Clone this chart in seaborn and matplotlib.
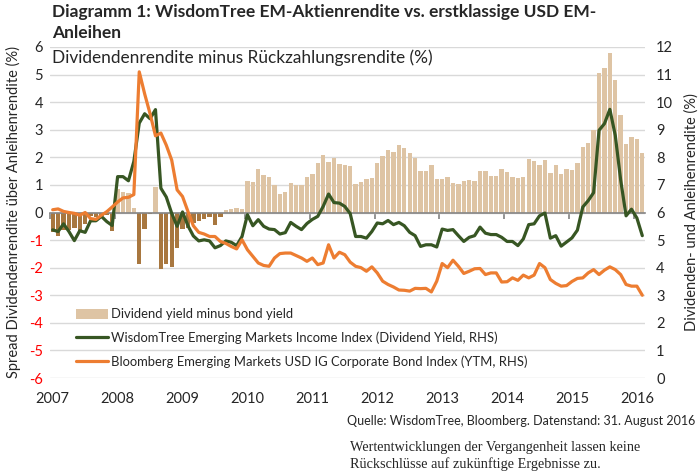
import numpy as np
import pandas as pd
import matplotlib.pyplot as plt
import seaborn as sns
from matplotlib.patches import Patch
from matplotlib.lines import Line2D

# monthly values, Jan 2007 .. Feb 2016
years = [str(y) for y in range(2007, 2017)]

spread = [-0.72, -0.86, -0.62, -0.62, -0.55, -0.70, -0.40, -0.12, -0.15, -0.12,
          -0.08, -0.68, 0.84, 0.76, 0.72, 0.16, -1.85, -0.60, -0.05, 0.94,
          -2.05, -1.85, -1.97, -1.29, -0.60, -0.56, -0.38, -0.32, -0.23, -0.17,
          -0.45, -0.15, 0.08, 0.12, 0.17, 0.12, 1.16, 1.10, 1.58, 1.36,
          1.28, 0.98, 0.67, 0.75, 1.08, 0.99, 1.00, 1.28, 1.39, 1.78,
          2.10, 1.84, 1.98, 1.77, 1.73, 1.70, 1.05, 1.12, 1.20, 1.24,
          1.78, 2.06, 2.28, 2.21, 2.44, 2.34, 2.14, 1.96, 1.51, 1.51,
          1.71, 1.20, 1.20, 1.30, 1.08, 1.03, 1.14, 1.18, 1.15, 1.49,
          1.50, 1.33, 1.33, 1.57, 1.47, 1.30, 1.24, 1.27, 1.94, 1.86,
          1.71, 1.90, 1.44, 1.71, 1.39, 1.57, 1.54, 1.80, 2.38, 2.52,
          3.00, 5.06, 5.23, 5.78, 4.82, 3.53, 2.50, 2.73, 2.66, 2.16]

div_yield = [5.37, 5.31, 5.59, 5.31, 4.98, 5.34, 5.28, 5.70, 5.70, 5.86,
             5.67, 5.53, 7.30, 7.30, 7.15, 7.85, 9.24, 9.58, 9.40, 9.73,
             6.88, 6.56, 5.97, 5.50, 6.02, 5.52, 5.15, 4.97, 5.01, 4.97,
             4.72, 4.80, 4.97, 4.92, 4.80, 5.13, 5.92, 5.52, 5.74, 5.50,
             5.40, 5.38, 5.22, 5.27, 5.64, 5.50, 5.38, 5.60, 5.75, 5.86,
             6.22, 6.67, 6.36, 6.34, 6.22, 5.96, 5.13, 5.13, 5.07, 5.31,
             5.62, 5.59, 5.71, 5.56, 5.64, 5.52, 5.28, 5.16, 4.77, 4.83,
             4.83, 4.75, 5.40, 5.35, 5.38, 5.16, 4.95, 5.10, 5.16, 5.47,
             5.25, 5.20, 5.20, 5.10, 4.95, 4.95, 4.80, 5.04, 5.56, 5.59,
             5.88, 5.98, 5.07, 5.16, 4.78, 4.93, 5.08, 5.36, 6.20, 6.43,
             6.72, 8.98, 9.22, 9.74, 8.80, 7.18, 5.88, 6.12, 5.80, 5.16]

bond_ytm = [6.10, 6.13, 6.04, 6.00, 5.97, 5.90, 6.00, 5.78, 5.75, 5.90,
            6.03, 6.20, 6.38, 6.53, 6.55, 6.65, 11.10, 10.30, 9.58, 8.78,
            8.88, 8.44, 7.90, 6.82, 6.58, 6.04, 5.52, 5.28, 5.22, 5.13,
            5.13, 4.95, 4.88, 4.77, 4.68, 5.01, 4.65, 4.41, 4.17, 4.08,
            4.05, 4.35, 4.51, 4.53, 4.53, 4.44, 4.35, 4.23, 4.35, 4.11,
            4.17, 4.83, 4.35, 4.56, 4.47, 4.20, 4.05, 4.00, 3.87, 4.03,
            3.81, 3.51, 3.39, 3.30, 3.19, 3.18, 3.15, 3.25, 3.24, 3.25,
            3.12, 3.51, 4.15, 4.00, 4.27, 4.05, 3.79, 3.87, 3.96, 3.97,
            3.75, 3.81, 3.81, 3.48, 3.49, 3.63, 3.54, 3.73, 3.63, 3.73,
            4.15, 4.00, 3.57, 3.43, 3.33, 3.35, 3.50, 3.61, 3.63, 3.81,
            3.93, 3.75, 3.91, 4.03, 3.93, 3.75, 3.39, 3.33, 3.33, 3.00]

TAN = '#DEC4A4'
BROWN = '#A8773F'
GREEN = '#375623'
ORANGE = '#ED7D31'

sns.set_theme(style='white')
plt.rcParams['font.family'] = ['Lato', 'DejaVu Sans']

n = len(spread)
df = pd.DataFrame({'month': np.arange(n), 'spread': spread,
                   'div': div_yield, 'bond': bond_ytm})
df['pos'] = df['spread'].clip(lower=0)
df['neg'] = df['spread'].clip(upper=0)

fig = plt.figure(figsize=(7, 4.76), dpi=100)
ax = fig.add_axes([50/700, 1 - 378/476, 595/700, 331/476])

# positive and negative spreads get different colours (Excel "invert if negative")
sns.barplot(data=df, x='month', y='pos', color=TAN, width=0.8, saturation=1,
            linewidth=0, edgecolor='none', ax=ax)
sns.barplot(data=df, x='month', y='neg', color=BROWN, width=0.8, saturation=1,
            linewidth=0, edgecolor='none', ax=ax)

ax.set_ylim(-6, 6)
yt = list(range(-6, 7))
ax.set_yticks(yt, labels=[str(v) for v in yt])
for v, lab in zip(yt, ax.get_yticklabels()):
    if v < 0:
        lab.set_color('red')
ax.grid(axis='y', color='#D9D9D9', lw=1)
ax.set_axisbelow(True)
for s in ['top', 'left', 'right']:
    ax.spines[s].set_visible(False)
ax.spines['bottom'].set_position(('data', 0))
ax.spines['bottom'].set_color('#868686')
ax.spines['bottom'].set_linewidth(1.2)
ax.set_xticks(np.arange(-0.5, n, 12))
ax.tick_params(axis='x', direction='out', length=4, color='#868686',
               labelbottom=False, bottom=True)
ax.tick_params(axis='y', length=0, pad=5, labelsize=10.5)
ax.set_xlabel('')
ax.set_ylabel('Spread Dividendenrendite über Anleihenrendite (%)',
              fontsize=10.5, labelpad=6)

# year labels under the plot area
sec = ax.secondary_xaxis('bottom')
sec.set_xticks(np.arange(0, n, 12), labels=years)
sec.tick_params(length=0, pad=10, labelsize=10.5)
sec.spines['bottom'].set_visible(False)

ax2 = ax.twinx()
sns.lineplot(data=df, x='month', y='div', color=GREEN, lw=2.3, ax=ax2)
sns.lineplot(data=df, x='month', y='bond', color=ORANGE, lw=2.3, ax=ax2)
ax2.set_ylim(0, 12)
ax2.set_yticks(range(0, 13))
ax2.tick_params(axis='y', length=0, pad=8, labelsize=10.5)
for s in ['top', 'left', 'right', 'bottom']:
    ax2.spines[s].set_visible(False)
ax2.set_ylabel('Dividenden- und Anleihenrendite (%)', fontsize=10.5,
               labelpad=8)
ax2.set_xlabel('')
ax.set_xlim(-0.5, n - 0.5)

handles = [Patch(facecolor=TAN, edgecolor='none'),
           Line2D([], [], color=GREEN, lw=2.3),
           Line2D([], [], color=ORANGE, lw=2.3)]
labels = ['Dividend yield minus bond yield',
          'WisdomTree Emerging Markets Income Index (Dividend Yield, RHS)',
          'Bloomberg Emerging Markets USD IG Corporate Bond Index (YTM, RHS)']
ax2.legend(handles, labels, loc='upper left', bbox_to_anchor=(0.044, 0.21),
           frameon=False, fontsize=9.4, handlelength=2.4, handleheight=0.8,
           handletextpad=0.25, labelspacing=0.85, borderpad=0, borderaxespad=0)

fig.text(52/700, 1 - 12/476, 'Diagramm 1: WisdomTree EM-Aktienrendite vs. erstklassige USD EM-',
         fontsize=12.5, fontweight='bold', va='center')
fig.text(52/700, 1 - 33/476, 'Anleihen', fontsize=12.5, fontweight='bold', va='center')
fig.text(52/700, 1 - 58/476, 'Dividendenrendite minus Rückzahlungsrendite (%)',
         fontsize=12.4, va='center')
fig.text(695/700, 1 - 421/476, 'Quelle: WisdomTree, Bloomberg. Datenstand: 31. August 2016',
         fontsize=9, ha='right', va='center')
fig.text(350/700, 1 - 456/476,
         'Wertentwicklungen der Vergangenheit lassen keine\nRückschlüsse auf zukünftige Ergebnisse zu.',
         fontsize=10.3, family='Liberation Serif', va='center', linespacing=1.3)

fig.savefig('out.png', dpi=100)
